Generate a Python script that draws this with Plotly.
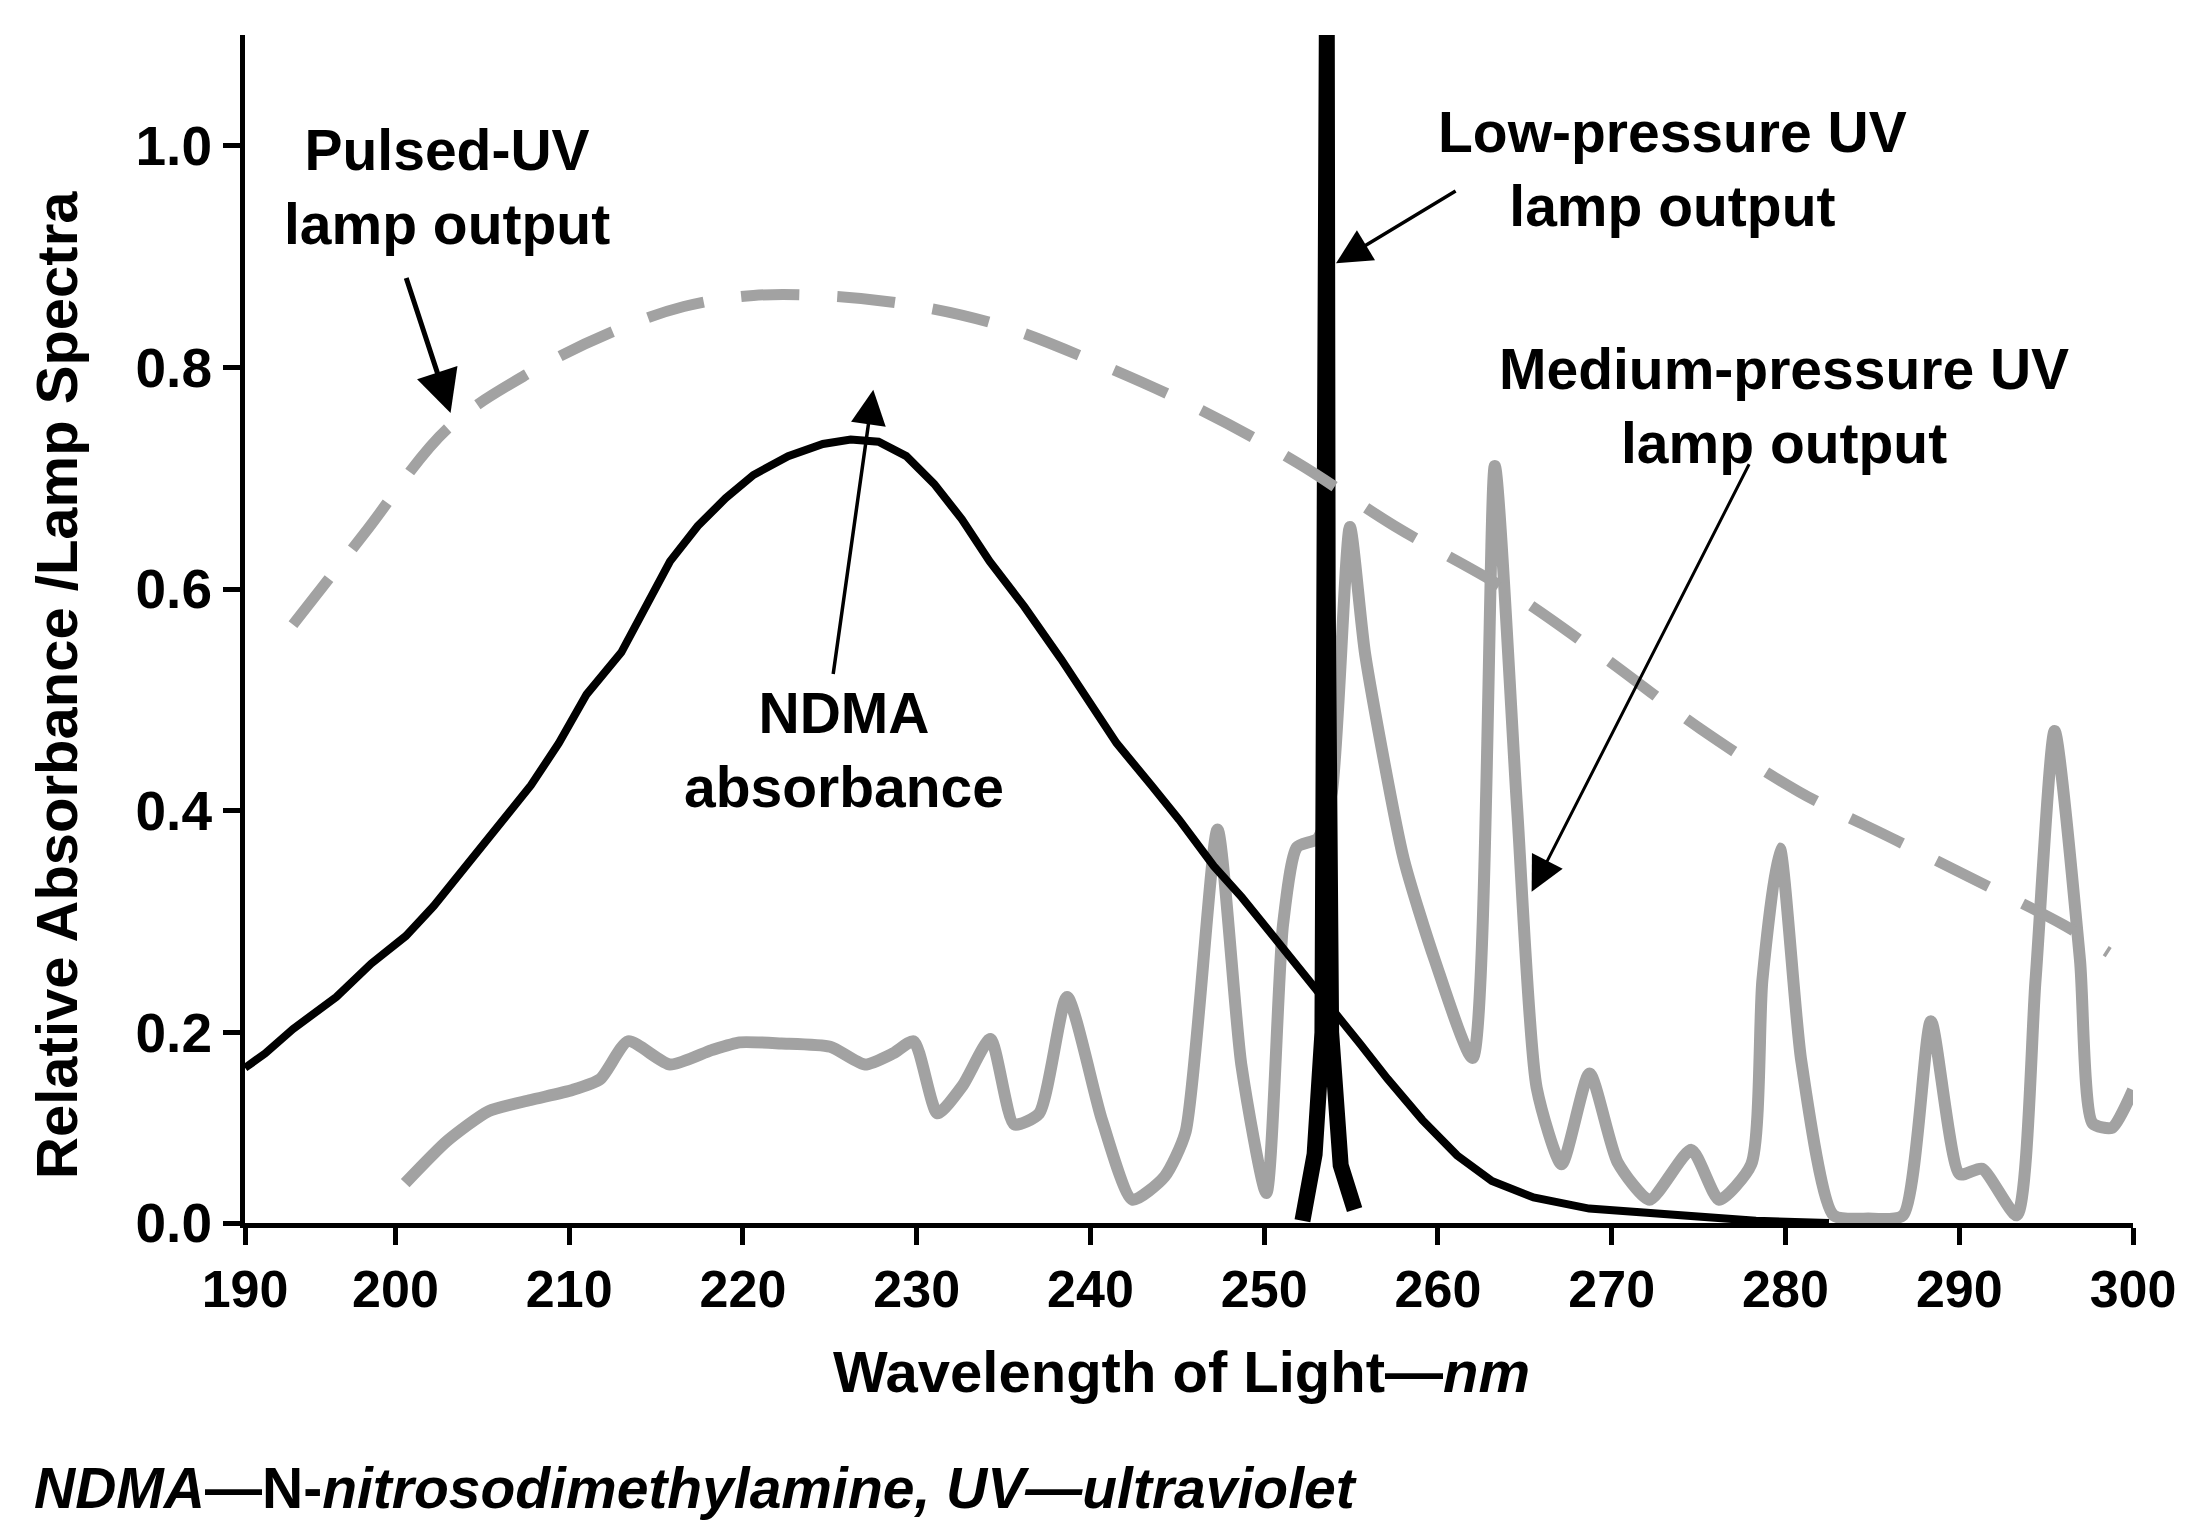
import plotly.graph_objects as go

# ---------------- data ----------------
x_tick_vals = [191.34, 200, 210, 220, 230, 240, 250, 260, 270, 280, 290, 300]
x_tick_text = ["190", "200", "210", "220", "230", "240", "250", "260", "270", "280", "290", "300"]
y_tick_vals = [0.028, 0.2, 0.4, 0.6, 0.8, 1.0]
y_tick_text = ["0.0", "0.2", "0.4", "0.6", "0.8", "1.0"]

ndma_x = [191.34, 192.5, 194.1, 196.6, 198.6, 200.6, 202.2, 203.8, 205.8, 207.8, 209.4,
          211.0, 213.0, 214.2, 215.8, 217.4, 219.0, 220.6, 222.6, 224.6, 226.2, 227.8,
          229.4, 231.0, 232.6, 234.2, 236.2, 238.3, 239.9, 241.5, 243.5, 245.1, 247.1,
          248.7, 250.3, 251.9, 253.9, 255.5, 257.1, 259.1, 261.1, 263.1, 265.5, 268.7,
          273.5, 278.3, 282.5]
ndma_y = [0.168, 0.181, 0.203, 0.232, 0.262, 0.287, 0.314, 0.345, 0.386, 0.423, 0.461,
          0.505, 0.543, 0.577, 0.625, 0.657, 0.682, 0.703, 0.720, 0.731, 0.735, 0.733,
          0.720, 0.695, 0.663, 0.625, 0.584, 0.537, 0.499, 0.461, 0.423, 0.392, 0.350,
          0.322, 0.291, 0.259, 0.221, 0.190, 0.158, 0.121, 0.089, 0.066, 0.051, 0.041,
          0.035, 0.030, 0.028]

pulsed_x = [194.1, 198.2, 203.0, 207.8, 212.6, 216.6, 220.6, 225.4, 230.2, 235.0, 240.7,
            246.3, 251.9, 257.5, 263.9, 269.5, 275.1, 280.8, 286.4, 292.0, 296.0, 298.6]
pulsed_y = [0.568, 0.650, 0.745, 0.796, 0.833, 0.855, 0.865, 0.864, 0.855, 0.837, 0.802,
            0.762, 0.714, 0.657, 0.600, 0.539, 0.474, 0.417, 0.373, 0.329, 0.297, 0.272]

medium_x = [200.56, 202.97, 205.37, 207.78, 210.18, 211.79, 213.39, 215.80, 218.20, 219.81,
            222.21, 225.02, 227.02, 228.63, 229.83, 231.19, 232.64, 234.24, 235.61, 237.05,
            238.65, 240.66, 242.42, 244.27, 245.47, 247.31, 248.68, 250.12, 251.08, 251.88,
            253.09, 253.89, 254.93, 255.81, 258.02, 259.82, 261.99, 263.27, 264.55, 265.68,
            267.12, 268.72, 270.33, 272.17, 274.58, 276.18, 278.03, 278.67, 279.67, 280.91,
            282.76, 284.76, 286.77, 288.37, 290.03, 291.31, 293.31, 294.39, 295.49, 296.95,
            297.67, 298.8, 300.0]
medium_y = [0.064, 0.102, 0.129, 0.139, 0.148, 0.158, 0.192, 0.171, 0.184, 0.191,
            0.190, 0.187, 0.171, 0.181, 0.192, 0.127, 0.152, 0.194, 0.117, 0.127,
            0.232, 0.121, 0.049, 0.070, 0.110, 0.383, 0.171, 0.055, 0.297, 0.367,
            0.375, 0.417, 0.656, 0.541, 0.357, 0.265, 0.177, 0.711, 0.403, 0.150,
            0.081, 0.163, 0.083, 0.049, 0.094, 0.049, 0.081, 0.247, 0.366, 0.174,
            0.035, 0.032, 0.035, 0.210, 0.072, 0.077, 0.035, 0.247, 0.472, 0.265,
            0.118, 0.114, 0.148]

low_x = [252.2, 252.9, 253.35, 253.55, 253.6, 253.65, 253.85, 254.4, 255.2]
low_y = [0.030, 0.09, 0.20, 0.60, 1.10, 0.60, 0.20, 0.08, 0.040]

FONT = "Liberation Sans, Arial, Helvetica, sans-serif"
GRAY = "#a2a2a2"

fig = go.Figure()
fig.add_trace(go.Scatter(x=medium_x, y=medium_y, mode="lines",
                         line=dict(color=GRAY, width=12, shape="spline", smoothing=0.6),
                         hoverinfo="skip"))
fig.add_trace(go.Scatter(x=ndma_x, y=ndma_y, mode="lines",
                         line=dict(color="black", width=8),
                         hoverinfo="skip"))
fig.add_trace(go.Scatter(x=low_x, y=low_y, mode="lines",
                         line=dict(color="black", width=16),
                         hoverinfo="skip"))
fig.add_trace(go.Scatter(x=pulsed_x, y=pulsed_y, mode="lines",
                         line=dict(color=GRAY, width=11, dash="58px,38px",
                                   shape="spline", smoothing=1.0),
                         hoverinfo="skip"))

def label(x, y, text, size=57):
    fig.add_annotation(x=x, y=y, xref="x", yref="y", text=text, showarrow=False,
                       font=dict(family=FONT, size=size, color="black"),
                       align="center", xanchor="center", yanchor="middle")

def arrow(tipx, tipy, tailx, taily, width=3.5, size=2.0):
    fig.add_annotation(x=tipx, y=tipy, ax=tailx, ay=taily, xref="x", yref="y",
                       axref="x", ayref="y", text="", showarrow=True,
                       arrowhead=2, arrowsize=size, arrowwidth=width,
                       arrowcolor="black", standoff=0, startstandoff=0)

label(202.97, 0.963, "<b>Pulsed-UV<br>lamp output</b>")
label(225.82, 0.455, "<b>NDMA<br>absorbance</b>")
label(273.5, 0.979, "<b>Low-pressure UV<br>lamp output</b>")
label(279.9, 0.765, "<b>Medium-pressure UV<br>lamp output</b>")

arrow(203.17, 0.759, 200.59, 0.882, width=5, size=1.7)
arrow(227.5, 0.780, 225.18, 0.522, width=3.5, size=2.0)
arrow(254.13, 0.894, 261.1, 0.960, width=3.5, size=2.0)
arrow(265.39, 0.327, 277.95, 0.714, width=3, size=2.3)

# axis titles and caption
fig.add_annotation(x=0.4958, y=-0.1254, xref="paper", yref="paper",
                   text="<b>Wavelength of Light—<i>nm</i></b>", showarrow=False,
                   font=dict(family=FONT, size=58, color="black"),
                   xanchor="center", yanchor="middle")
fig.add_annotation(x=-0.0996, y=0.4529, xref="paper", yref="paper",
                   text="<b>Relative Absorbance /Lamp Spectra</b>", showarrow=False,
                   textangle=-90,
                   font=dict(family=FONT, size=58, color="black"),
                   xanchor="center", yanchor="middle")
fig.add_annotation(x=-0.1127, y=-0.2231, xref="paper", yref="paper",
                   text="<b><i>NDMA</i>—N-<i>nitrosodimethylamine, UV—ultraviolet</i></b>",
                   showarrow=False,
                   font=dict(family=FONT, size=57, color="black"),
                   xanchor="left", yanchor="middle")

# page body has an 8px margin: keep the figure inside the window
fig.update_layout(
    width=2180, height=1515,
    margin=dict(l=237, r=45, t=27, b=300),
    paper_bgcolor="white", plot_bgcolor="white",
    showlegend=False,
    font=dict(family=FONT, color="black"),
)
fig.update_xaxes(range=[191.34, 300], tickmode="array", tickvals=x_tick_vals,
                 ticktext=x_tick_text, showgrid=False, zeroline=False,
                 showline=True, linecolor="black", linewidth=5,
                 ticks="outside", ticklen=17, tickwidth=5, tickcolor="black",
                 tickfont=dict(family=FONT, size=52, color="black", weight="bold"))
fig.update_yaxes(range=[0.028, 1.1], tickmode="array", tickvals=y_tick_vals,
                 ticktext=y_tick_text, showgrid=False, zeroline=False,
                 showline=True, linecolor="black", linewidth=5,
                 ticks="outside", ticklen=17, tickwidth=5, tickcolor="black",
                 tickfont=dict(family=FONT, size=55, color="black", weight="bold"))

fig.write_html("out.html")
